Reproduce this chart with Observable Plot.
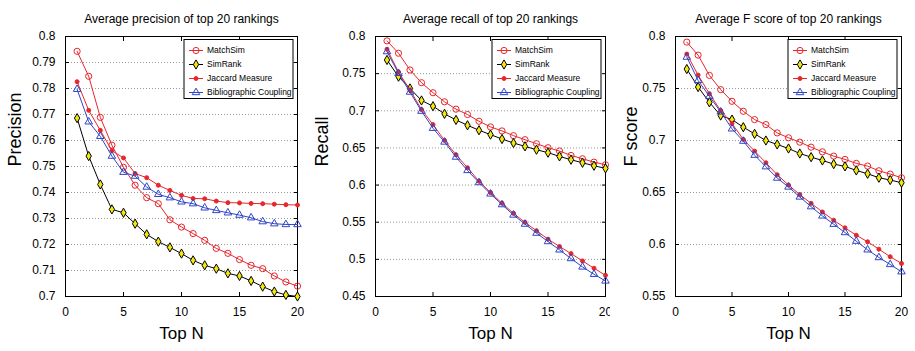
<!DOCTYPE html>
<html><head><meta charset="utf-8">
<script src="https://cdn.jsdelivr.net/npm/d3@7"></script>
<script src="https://cdn.jsdelivr.net/npm/@observablehq/plot@0.6"></script>
<style>
body{margin:0;background:#fff;}
#row{display:flex;width:915px;height:351px;}
#row > div{width:305px;height:351px;}
</style></head><body><div id="row"></div>
<script>
// ---------- data ----------
const topN = [1,2,3,4,5,6,7,8,9,10,11,12,13,14,15,16,17,18,19,20];
const seriesNames = ["MatchSim","SimRank","Jaccard Measure","Bibliographic Coupling"];
const xTicks = [0,5,10,15,20];

// Precision panel
const precMatchSim = [0.7943,0.7847,0.7689,0.7582,0.7497,0.7428,0.7380,0.7357,0.7295,0.7267,0.7242,0.7216,0.7185,0.7166,0.7142,0.7120,0.7107,0.7079,0.7056,0.7040];
const precSimRank  = [0.7686,0.7540,0.7431,0.7335,0.7322,0.7280,0.7239,0.7211,0.7189,0.7165,0.7139,0.7120,0.7107,0.7089,0.7079,0.7060,0.7038,0.7019,0.7006,0.7000];
const precJaccard  = [0.7826,0.7716,0.7639,0.7561,0.7533,0.7473,0.7457,0.7428,0.7408,0.7389,0.7377,0.7376,0.7367,0.7361,0.7360,0.7358,0.7357,0.7355,0.7353,0.7352];
const precBiblio   = [0.7797,0.7672,0.7616,0.7540,0.7478,0.7463,0.7421,0.7393,0.7380,0.7364,0.7357,0.7341,0.7331,0.7322,0.7313,0.7303,0.7288,0.7280,0.7277,0.7277];
const precTicks = [0.7,0.71,0.72,0.73,0.74,0.75,0.76,0.77,0.78,0.79,0.8];

// Recall panel
const recMatchSim = [0.7941,0.7775,0.7549,0.7378,0.7243,0.7121,0.7022,0.6950,0.6859,0.6783,0.6729,0.6665,0.6611,0.6557,0.6503,0.6458,0.6399,0.6354,0.6309,0.6273];
const recSimRank  = [0.7684,0.7459,0.7301,0.7139,0.7062,0.6959,0.6877,0.6805,0.6738,0.6679,0.6620,0.6566,0.6521,0.6476,0.6436,0.6386,0.6341,0.6300,0.6260,0.6225];
const recJaccard  = [0.7829,0.7522,0.7279,0.7017,0.6814,0.6602,0.6408,0.6233,0.6052,0.5899,0.5755,0.5619,0.5498,0.5385,0.5272,0.5173,0.5078,0.4979,0.4880,0.4785];
const recBiblio   = [0.7797,0.7504,0.7252,0.6995,0.6765,0.6580,0.6377,0.6197,0.6034,0.5881,0.5737,0.5597,0.5475,0.5353,0.5240,0.5128,0.5011,0.4898,0.4799,0.4709];
const recTicks = [0.45,0.5,0.55,0.6,0.65,0.7,0.75,0.8];

// F score panel
const fMatchSim = [0.7946,0.7821,0.7626,0.7489,0.7377,0.7281,0.7201,0.7153,0.7073,0.7026,0.6984,0.6936,0.6891,0.6850,0.6818,0.6780,0.6754,0.6709,0.6677,0.6642];
const fSimRank  = [0.7687,0.7514,0.7367,0.7240,0.7201,0.7128,0.7064,0.7000,0.6962,0.6923,0.6875,0.6840,0.6808,0.6773,0.6751,0.6712,0.6680,0.6642,0.6620,0.6594];
const fJaccard  = [0.7831,0.7629,0.7450,0.7288,0.7163,0.7010,0.6898,0.6786,0.6671,0.6572,0.6479,0.6396,0.6313,0.6233,0.6160,0.6089,0.6026,0.5955,0.5882,0.5818];
const fBiblio   = [0.7802,0.7578,0.7425,0.7275,0.7112,0.6994,0.6859,0.6748,0.6639,0.6553,0.6457,0.6364,0.6275,0.6195,0.6115,0.6032,0.5949,0.5875,0.5808,0.5738];
const fTicks = [0.55,0.6,0.65,0.7,0.75,0.8];

// ---------- styles ----------
const RED = "#e8262b", BLUE = "#2f45c8", BLACK = "#000", YELLOW = "#f2e70f";
const styles = [
  {stroke: RED,   symbol: "circle",   r: 3.1, fill: "none",  dotStroke: RED},
  {stroke: BLACK, symbol: "diamond",  r: 2.8, fill: YELLOW,  dotStroke: BLACK},
  {stroke: RED,   symbol: "circle",   r: 2.0, fill: RED,     dotStroke: RED},
  {stroke: BLUE,  symbol: "triangle", r: 2.8, fill: "none",  dotStroke: BLUE}
];
const FONT = "'Liberation Sans', Arial, Helvetica, sans-serif";

const panels = [
  {title: "Average precision of top 20 rankings", ylabel: "Precision", values: [precMatchSim, precSimRank, precJaccard, precBiblio], ticks: precTicks, domain: [0.7, 0.8], ml: 65, mr: 8, ylabDx: -50},
  {title: "Average recall of top 20 rankings", ylabel: "Recall", values: [recMatchSim, recSimRank, recJaccard, recBiblio], ticks: recTicks, domain: [0.45, 0.8], ml: 70, mr: 5, ylabDx: -53},
  {title: "Average F score of top 20 rankings", ylabel: "F score", values: [fMatchSim, fSimRank, fJaccard, fBiblio], ticks: fTicks, domain: [0.55, 0.8], ml: 65, mr: 14, ylabDx: -44}
];

const fmt = d => String(+d.toFixed(2));

function makePanel(cfg) {
  const rows = [];
  seriesNames.forEach((s, i) => cfg.values[i].forEach((v, j) => rows.push({series: s, n: topN[j], v})));
  const marks = [
    Plot.gridY(cfg.ticks, {stroke: "#9a9a9a", strokeOpacity: 1, strokeDasharray: "1,2"}),
    Plot.axisY(cfg.ticks, {anchor: "left", tickSize: 0, tickPadding: 10, tickFormat: fmt, fontSize: 12, label: null}),
    Plot.axisY(cfg.ticks, {anchor: "left", tickSize: 4, dx: 4, text: null, label: null}),
    Plot.axisY(cfg.ticks, {anchor: "right", tickSize: 4, dx: -4, text: null, label: null}),
    Plot.axisX(xTicks, {anchor: "bottom", tickSize: 0, tickPadding: 11, fontSize: 12, label: null}),
    Plot.axisX(xTicks, {anchor: "bottom", tickSize: 4, dy: -4, text: null, label: null}),
    Plot.axisX(xTicks, {anchor: "top", tickSize: 4, dy: 4, text: null, label: null}),
    Plot.frame({stroke: "#000", strokeWidth: 1})
  ];
  seriesNames.forEach((s, i) => {
    const st = styles[i];
    marks.push(Plot.line(rows, {filter: d => d.series === s, x: "n", y: "v", stroke: st.stroke, strokeWidth: 1}));
    marks.push(Plot.dot(rows, {filter: d => d.series === s, x: "n", y: "v", symbol: st.symbol, r: st.r, fill: st.fill, stroke: st.dotStroke, strokeWidth: 1}));
  });
  marks.push(Plot.text([cfg.title], {frameAnchor: "top", dy: -22, fontSize: 12, text: d => d}));
  marks.push(Plot.text([cfg.ylabel], {frameAnchor: "left", dx: cfg.ylabDx, rotate: -90, fontSize: 18, text: d => d}));
  marks.push(Plot.text(["Top N"], {frameAnchor: "bottom", dy: 42, fontSize: 17, text: d => d}));

  const chart = Plot.plot({
    width: 305, height: 351,
    marginLeft: cfg.ml, marginRight: cfg.mr, marginTop: 36, marginBottom: 55,
    style: {fontFamily: FONT, fontSize: "12px", color: "#000", background: "#fff", overflow: "visible"},
    x: {domain: [0, 20], axis: null},
    y: {domain: cfg.domain, axis: null},
    marks
  });

  // legend box (top-right inside frame)
  const xr = chart.scale("x").range, yr = chart.scale("y").range;
  const right = Math.max(...xr), top = Math.min(...yr);
  const bw = 109, bh = 59;
  const svg = d3.select(chart);
  const g = svg.append("g").attr("transform", `translate(${right - 4 - bw},${top + 3.5})`)
    .attr("text-anchor", "start");
  g.append("rect").attr("x", 0).attr("y", 0).attr("width", bw).attr("height", bh)
    .style("fill", "#ffffff").style("stroke", "#000000").style("stroke-width", "1px");
  seriesNames.forEach((s, i) => {
    const st = styles[i];
    const yy = 11 + i * 14;
    g.append("line").attr("x1", 5).attr("x2", 19).attr("y1", yy).attr("y2", yy).attr("stroke", st.stroke).attr("stroke-width", 1);
    const sym = {circle: d3.symbolCircle, diamond: d3.symbolDiamond, triangle: d3.symbolTriangle}[st.symbol];
    g.append("path").attr("d", d3.symbol(sym, st.r * st.r * Math.PI)())
      .attr("transform", `translate(12,${yy})`).attr("fill", st.fill).attr("stroke", st.dotStroke).attr("stroke-width", 1);
    g.append("text").attr("x", 23).attr("y", yy).attr("dy", "0.35em").attr("text-anchor", "start")
      .attr("font-size", 8.5).attr("font-family", FONT).attr("fill", "#000").text(s);
  });
  return chart;
}

const row = document.getElementById("row");
panels.forEach(p => {
  const div = document.createElement("div");
  div.appendChild(makePanel(p));
  row.appendChild(div);
});
</script>
</body></html>
